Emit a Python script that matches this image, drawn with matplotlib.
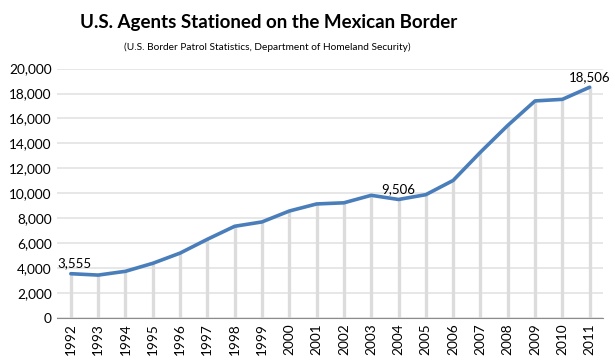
import matplotlib.pyplot as plt
import numpy as np

# Agentes na fronteira sul (US Border Patrol)
anos = ["1992", "1993", "1994", "1995", "1996", "1997", "1998", "1999", "2000", "2001",
        "2002", "2003", "2004", "2005", "2006", "2007", "2008", "2009", "2010", "2011"]
agentes = [3555, 3444, 3747, 4388, 5206, 6315, 7357, 7706, 8580, 9147,
           9239, 9840, 9506, 9891, 11032, 13297, 15442, 17408, 17535, 18506]
rotulos = {"1992": "3,555", "2004": "9,506", "2011": "18,506"}

plt.rcParams['font.family'] = ['Lato', 'DejaVu Sans']

fig = plt.figure(figsize=(6.15, 3.61), dpi=100)
ax = fig.add_axes([0.093, 0.119, 0.888, 0.691])

x = np.arange(len(anos))

# linhas verticais cinzas
ax.vlines(x, 0, agentes, color="#dcdcdc", linewidth=2.4, zorder=2)
ax.plot(x, agentes, color="#4a7ebb", linewidth=2.6, zorder=3, solid_capstyle="round")

for i, ano in enumerate(anos):
    if ano in rotulos:
        if i == 0:
            ax.text(i - 0.5, agentes[i] + 350, rotulos[ano], ha="left", va="bottom", fontsize=9.5)
        else:
            ax.text(i, agentes[i] + 350, rotulos[ano], ha="center", va="bottom", fontsize=9.5)

ax.set_xlim(-0.5, 19.5)
ax.set_ylim(0, 20000)
ax.set_yticks(range(0, 20001, 2000))
ax.set_yticklabels(["{:,}".format(v) for v in range(0, 20001, 2000)], fontsize=9.8)
ax.set_xticks(x)
ax.set_xticklabels(anos, rotation=90, fontsize=9.8)
ax.yaxis.grid(True, color="#e3e3e3", linewidth=1.2, zorder=0)
ax.set_axisbelow(True)

for s in ["top", "right", "left"]:
    ax.spines[s].set_visible(False)
ax.spines["bottom"].set_color("#8c8c8c")
ax.tick_params(axis="both", length=0, pad=4)

fig.text(0.437, 0.937, "U.S. Agents Stationed on the Mexican Border", ha="center", va="center",
         fontsize=13.5, fontweight="bold")
fig.text(0.435, 0.868, "(U.S. Border Patrol Statistics, Department of Homeland Security)",
         ha="center", va="center", fontsize=7.3)

plt.savefig("out.png", dpi=100)
